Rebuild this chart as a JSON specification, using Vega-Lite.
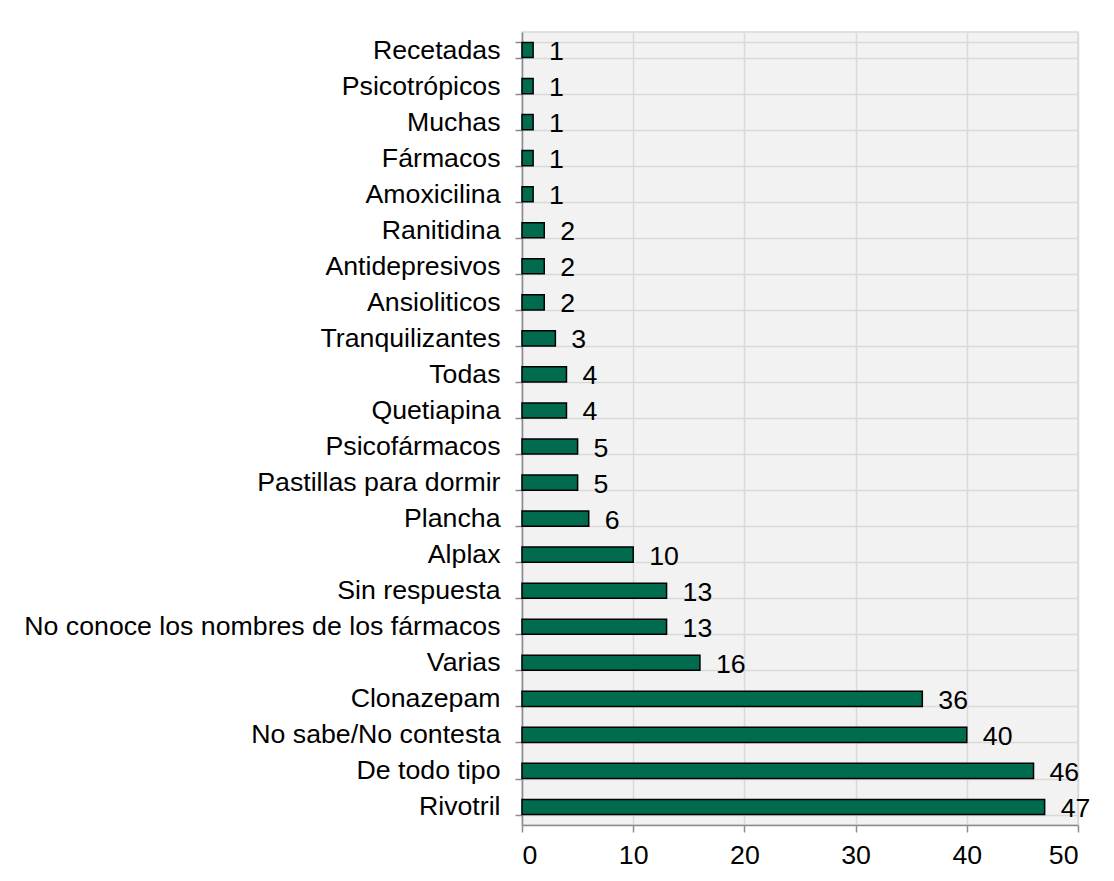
{
  "$schema": "https://vega.github.io/schema/vega-lite/v6.json",
  "autosize": {"type": "none"},
  "padding": {"left": 522, "top": 32, "right": 36, "bottom": 56},
  "width": 556,
  "height": 793,
  "background": "white",
  "config": {
    "font": "Liberation Sans",
    "view": {"fill": "#f2f2f2", "stroke": "#d9d9d9", "strokeWidth": 1.5}
  },
  "data": {
    "values": [
      {"medicamento": "Recetadas", "n": 1},
      {"medicamento": "Psicotrópicos", "n": 1},
      {"medicamento": "Muchas", "n": 1},
      {"medicamento": "Fármacos", "n": 1},
      {"medicamento": "Amoxicilina", "n": 1},
      {"medicamento": "Ranitidina", "n": 2},
      {"medicamento": "Antidepresivos", "n": 2},
      {"medicamento": "Ansioliticos", "n": 2},
      {"medicamento": "Tranquilizantes", "n": 3},
      {"medicamento": "Todas", "n": 4},
      {"medicamento": "Quetiapina", "n": 4},
      {"medicamento": "Psicofármacos", "n": 5},
      {"medicamento": "Pastillas para dormir", "n": 5},
      {"medicamento": "Plancha", "n": 6},
      {"medicamento": "Alplax", "n": 10},
      {"medicamento": "Sin respuesta", "n": 13},
      {"medicamento": "No conoce los nombres de los fármacos", "n": 13},
      {"medicamento": "Varias", "n": 16},
      {"medicamento": "Clonazepam", "n": 36},
      {"medicamento": "No sabe/No contesta", "n": 40},
      {"medicamento": "De todo tipo", "n": 46},
      {"medicamento": "Rivotril", "n": 47}
    ]
  },
  "encoding": {
    "y": {
      "field": "medicamento",
      "type": "nominal",
      "sort": null,
      "scale": {"paddingInner": 0.58, "paddingOuter": 0.29},
      "axis": {
        "title": null,
        "tickBand": "extent",
        "grid": true,
        "gridColor": "#d9d9d9",
        "gridWidth": 1.5,
        "domainColor": "#8c8c8c",
        "domainWidth": 1.5,
        "tickColor": "#8c8c8c",
        "tickWidth": 1.5,
        "tickSize": 7,
        "labelPadding": 15,
        "labelFontSize": 26.7,
        "labelColor": "#000000",
        "labelFont": "Liberation Sans",
        "labelLimit": 600
      }
    },
    "x": {
      "field": "n",
      "type": "quantitative",
      "scale": {"domain": [0, 50], "nice": false},
      "axis": {
        "title": null,
        "values": [0, 10, 20, 30, 40, 50],
        "grid": true,
        "gridColor": "#d9d9d9",
        "gridWidth": 1.5,
        "domainColor": "#8c8c8c",
        "domainWidth": 1.5,
        "tickColor": "#8c8c8c",
        "tickWidth": 1.5,
        "tickSize": 7,
        "labelPadding": 10,
        "labelFontSize": 26.7,
        "labelColor": "#000000",
        "labelFont": "Liberation Sans"
      }
    }
  },
  "layer": [
    {
      "mark": {"type": "bar", "color": "#006b4f", "stroke": "#000000", "strokeWidth": 1.5}
    },
    {
      "mark": {"type": "text", "align": "left", "baseline": "middle", "dx": 16, "dy": 2, "fontSize": 26.7, "font": "Liberation Sans", "color": "#000000"},
      "encoding": {"text": {"field": "n", "type": "quantitative"}}
    }
  ]
}
